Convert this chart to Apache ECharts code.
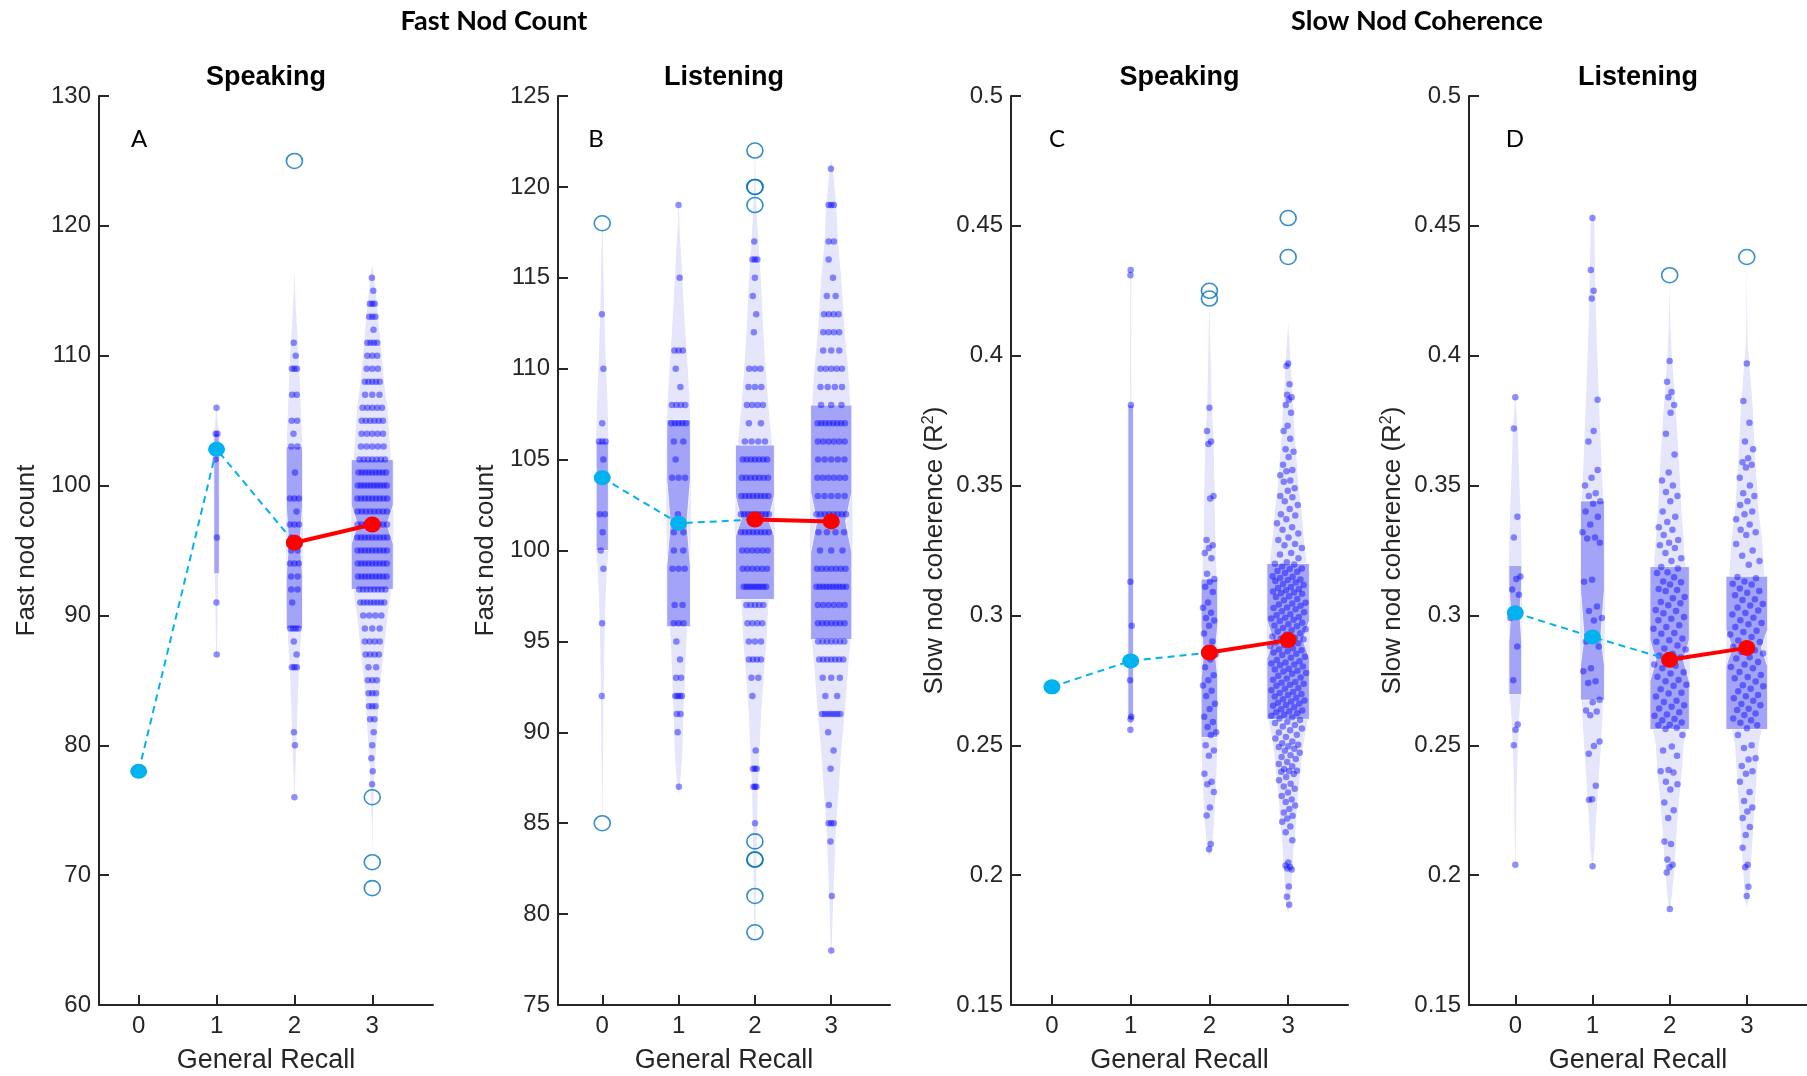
<!DOCTYPE html>
<html><head><meta charset="utf-8">
<script src="https://cdn.jsdelivr.net/npm/echarts@6/dist/echarts.min.js"></script>
<style>html,body{margin:0;padding:0;background:#fff}#c{width:1807px;height:1076px}</style>
</head><body><div id="c"></div>
<script>
// ---------------- shared ----------------
const groups = [0, 1, 2, 3];
const xTickLabels = ['0', '1', '2', '3'];
const superTitles = ['Fast Nod Count', 'Slow Nod Coherence'];
const panelTitles = ['Speaking', 'Listening', 'Speaking', 'Listening'];
const panelLetters = ['A', 'B', 'C', 'D'];
const yNames = ['Fast nod count', 'Fast nod count', 'Slow nod coherence (R{sup|2})', 'Slow nod coherence (R{sup|2})'];
const xName = 'General Recall';

// ---------------- Panel A: fast nod count, speaking ----------------
const fastSpkMedian = [78, 102.8, 95.6, 97];
const fastSpkBox = [null, [93.2, null, 102.8, null, 104], [89, 93, 95.6, 98.5, 103], [92, 95.5, 97, 98.5, 102]];
const fastSpkOutliers = [[], [], [125], [76, 71, 69]];
const fastSpkRows = [
  [[78, 1]],
  [[106, 1], [104, 2], [103, 1], [102, 1], [96, 1], [91, 1], [87, 1]],
  [[111, 1], [110, 1], [109, 3], [107, 2], [105, 2], [104, 1], [103, 2], [101, 1], [99, 3], [98, 1], [97, 3], [96, 1], [95, 2], [94, 3], [93, 2], [92, 2], [91, 1], [89, 4], [88, 1], [87, 1], [86, 3], [81, 1], [80, 1], [76, 1]],
  [[116, 1], [115, 1], [114, 3], [113, 3], [112, 1], [111, 4], [110, 3], [109, 3], [108, 5], [107, 3], [106, 5], [105, 6], [104, 5], [103, 5], [102, 7], [101, 9], [100, 10], [99, 9], [98, 8], [97, 8], [96, 9], [95, 9], [94, 9], [93, 9], [92, 8], [91, 8], [90, 4], [89, 3], [88, 4], [87, 4], [86, 2], [85, 3], [84, 3], [83, 3], [82, 2], [81, 1], [80, 1], [79, 1], [78, 1], [77, 1]]
];
const fastSpkDensity = [
  [],
  [[106.3, 0], [106, 0.006], [105, 0.014], [104, 0.03], [103, 0.035], [100, 0.035], [97, 0.03], [94, 0.024], [93, 0.02], [91, 0.015], [89, 0.01], [87, 0.005], [86.8, 0]],
  [[116.5, 0], [114, 0.015], [112, 0.035], [110, 0.055], [107, 0.075], [104, 0.095], [101, 0.105], [97, 0.11], [93, 0.105], [90, 0.095], [88, 0.08], [86, 0.06], [83, 0.04], [80, 0.025], [78, 0.012], [76, 0.002]],
  [[117, 0], [116, 0.027], [114, 0.06], [112, 0.09], [110, 0.12], [108, 0.15], [106, 0.195], [104, 0.215], [102, 0.24], [99, 0.27], [96, 0.27], [93, 0.26], [91, 0.22], [90, 0.195], [88, 0.16], [86, 0.125], [84, 0.09], [82, 0.07], [80, 0.05], [78, 0.03], [76, 0.015], [74, 0.006], [72, 0.001]]
];

// ---------------- Panel B: fast nod count, listening ----------------
const fastLisMedian = [104, 101.5, 101.7, 101.6];
const fastLisBox = [[100, null, 104, null, 106], [95.8, 99.1, 101.5, 103.9, 107.2], [97.3, 100.8, 101.7, 103.0, 105.8], [95.1, 99.9, 101.6, 103.2, 108]];
const fastLisOutliers = [[118, 85], [], [122, 120, 120, 119, 84, 83, 83, 81, 79], []];
const fastLisRows = [
  [[113, 1], [110, 1], [107, 1], [106, 3], [105, 1], [104, 1], [102, 2], [101, 1], [100, 1], [99, 1], [96, 1], [92, 1]],
  [[119, 1], [115, 1], [111, 3], [110, 1], [109, 1], [108, 4], [107, 5], [106, 2], [105, 1], [104, 3], [102, 1], [101, 2], [100, 2], [99, 3], [97, 2], [96, 3], [95, 1], [94, 1], [93, 2], [92, 4], [91, 2], [90, 1], [87, 1]],
  [[117, 1], [116, 3], [115, 1], [114, 1], [113, 1], [112, 1], [110, 3], [109, 3], [108, 4], [107, 2], [106, 4], [105, 7], [104, 7], [103, 8], [102, 9], [101, 8], [100, 6], [99, 6], [98, 9], [97, 5], [96, 4], [95, 3], [94, 4], [93, 2], [92, 1], [89, 1], [88, 3], [87, 3], [85, 1]],
  [[121, 1], [119, 3], [117, 2], [116, 1], [115, 1], [114, 2], [113, 4], [112, 4], [111, 3], [110, 5], [109, 4], [108, 3], [107, 8], [106, 6], [105, 5], [104, 6], [103, 5], [102, 8], [101, 4], [100, 3], [99, 7], [98, 10], [97, 6], [96, 7], [95, 7], [94, 7], [93, 3], [92, 2], [91, 7], [90, 1], [89, 1], [88, 1], [86, 1], [85, 3], [84, 1], [81, 1], [78, 1]]
];
const fastLisDensity = [
  [[118, 0.003], [116, 0.012], [113, 0.026], [110, 0.05], [108, 0.07], [106, 0.08], [103, 0.085], [100, 0.08], [99, 0.06], [97, 0.04], [95, 0.028], [92, 0.017], [89, 0.01], [86, 0.004], [85, 0]],
  [[119.5, 0], [118, 0.01], [116, 0.035], [114, 0.06], [112, 0.087], [110, 0.12], [108, 0.146], [105, 0.16], [102, 0.16], [99, 0.15], [96, 0.12], [95, 0.1], [93, 0.083], [91, 0.063], [89, 0.05], [88, 0.035], [87, 0.015], [86.5, 0]],
  [[122, 0], [120, 0.01], [118, 0.03], [117, 0.046], [115, 0.076], [112, 0.11], [110, 0.14], [108, 0.175], [106, 0.22], [104, 0.25], [101, 0.26], [99, 0.24], [97, 0.175], [95, 0.15], [93, 0.113], [91, 0.08], [89, 0.06], [87, 0.037], [85, 0.028], [83, 0.02], [81, 0.014], [79, 0.008], [78.5, 0]],
  [[121.5, 0], [121, 0.02], [119, 0.065], [117, 0.087], [115, 0.13], [112, 0.175], [110, 0.22], [108, 0.25], [105, 0.27], [101, 0.28], [98, 0.27], [95, 0.25], [93, 0.21], [91, 0.175], [89, 0.13], [87, 0.1], [85, 0.065], [83, 0.045], [81, 0.026], [79, 0.012], [78, 0.005], [77.5, 0]]
];

// ---------------- Panel C: slow nod coherence, speaking ----------------
const slowSpkMedian = [0.2725, 0.2825, 0.2857, 0.2905];
const slowSpkBox = [null, [0.26, null, 0.2825, null, 0.381], [0.253, 0.276, 0.2857, 0.296, 0.314], [0.260, 0.2835, 0.2905, 0.298, 0.320]];
const slowSpkOutliers = [[], [], [0.425, 0.422], [0.453, 0.438]];
const slowSpkValues = [
  [0.2725],
  [0.433, 0.431, 0.381, 0.313, 0.296, 0.283, 0.275, 0.261, 0.260, 0.256],
  [0.380, 0.371, 0.367, 0.366, 0.346, 0.345, 0.329, 0.327, 0.326, 0.324, 0.322, 0.316, 0.314, 0.313, 0.311, 0.309, 0.305, 0.303, 0.301, 0.299, 0.298, 0.296, 0.293, 0.290, 0.287, 0.285, 0.283, 0.280, 0.277, 0.275, 0.273, 0.271, 0.269, 0.266, 0.264, 0.261, 0.259, 0.257, 0.255, 0.254, 0.250, 0.248, 0.246, 0.239, 0.236, 0.235, 0.232, 0.226, 0.223, 0.212, 0.210],
  [0.397, 0.396, 0.389, 0.385, 0.384, 0.383, 0.381, 0.378, 0.373, 0.371, 0.368, 0.364, 0.363, 0.361, 0.358, 0.356, 0.3555, 0.354, 0.352, 0.3515, 0.349, 0.348, 0.346, 0.3455, 0.344, 0.3425, 0.341, 0.339, 0.3385, 0.337, 0.3355, 0.334, 0.333, 0.3315, 0.330, 0.329, 0.3275, 0.327, 0.326, 0.324, 0.3235, 0.322, 0.3205,
   0.3199, 0.3196, 0.3188, 0.3181, 0.3179, 0.3171, 0.3168, 0.3163, 0.3151, 0.3149, 0.3144, 0.3138, 0.3136, 0.3133, 0.3127, 0.3121, 0.3117, 0.3109, 0.3106, 0.3102, 0.3097, 0.3092, 0.3088, 0.3085, 0.3083, 0.3074, 0.3071, 0.3063, 0.3058, 0.3049, 0.3046, 0.3042, 0.3037, 0.3031, 0.3029, 0.3024, 0.3016, 0.3012, 0.3005, 0.3001, 0.2994, 0.2991, 0.2988, 0.2983, 0.2979, 0.2972, 0.2966, 0.2961, 0.2958, 0.2952, 0.2947, 0.2943, 0.2938, 0.2931, 0.2927, 0.2919, 0.2914, 0.2911, 0.2908, 0.2904, 0.2896, 0.2893, 0.2885, 0.2881, 0.2874, 0.2869, 0.2866, 0.2862, 0.2857, 0.2852, 0.2848, 0.2841, 0.2837, 0.2828, 0.2824, 0.2819, 0.2815, 0.2811, 0.2808, 0.2803, 0.2795, 0.2792, 0.2787, 0.2784, 0.2778, 0.2775, 0.2768, 0.2761, 0.2757, 0.2752, 0.2744, 0.2741, 0.2737, 0.2733, 0.2729, 0.2721, 0.2718, 0.2712, 0.2705, 0.2701, 0.2697, 0.2694, 0.2688, 0.2683, 0.2677, 0.2672, 0.2669, 0.2664, 0.2661, 0.2655, 0.2652, 0.2646, 0.2639, 0.2634, 0.2631, 0.2627, 0.2623, 0.2618, 0.2614, 0.2608, 0.2603,
   0.2597, 0.2591, 0.2586, 0.2578, 0.2572, 0.2565, 0.2558, 0.2549, 0.2541, 0.2532, 0.2526, 0.2515, 0.2508, 0.2502, 0.2496, 0.2493, 0.2487, 0.2479, 0.2471, 0.2462, 0.2455, 0.2447, 0.2436, 0.2428, 0.2419, 0.2409, 0.2402, 0.2401, 0.2398, 0.2389, 0.2378, 0.2365, 0.2352, 0.2341, 0.2333, 0.2318, 0.2305, 0.2291, 0.2282, 0.2268, 0.2255, 0.2241, 0.2229, 0.2218, 0.2206, 0.2187, 0.2165, 0.2134, 0.2049, 0.2037, 0.2031, 0.2026, 0.2022, 0.1956, 0.1917, 0.1886]
];
const slowSpkDensity = [
  [],
  [[0.434, 0], [0.43, 0.006], [0.40, 0.007], [0.38, 0.009], [0.34, 0.012], [0.30, 0.016], [0.28, 0.018], [0.26, 0.014], [0.254, 0]],
  [[0.423, 0], [0.41, 0.008], [0.40, 0.015], [0.38, 0.028], [0.37, 0.05], [0.35, 0.064], [0.33, 0.072], [0.32, 0.085], [0.30, 0.1], [0.28, 0.105], [0.26, 0.105], [0.25, 0.1], [0.24, 0.09], [0.23, 0.075], [0.22, 0.057], [0.21, 0.03], [0.207, 0]],
  [[0.413, 0], [0.40, 0.026], [0.39, 0.043], [0.38, 0.064], [0.37, 0.08], [0.36, 0.106], [0.35, 0.13], [0.34, 0.17], [0.33, 0.196], [0.32, 0.234], [0.30, 0.27], [0.28, 0.275], [0.26, 0.25], [0.25, 0.19], [0.24, 0.153], [0.23, 0.12], [0.22, 0.098], [0.21, 0.068], [0.20, 0.049], [0.19, 0.032], [0.185, 0]]
];

// ---------------- Panel D: slow nod coherence, listening ----------------
const slowLisMedian = [0.301, 0.2917, 0.2829, 0.2875];
const slowLisBox = [[0.2695, 0.290, 0.301, 0.312, 0.3193], [0.2674, 0.281, 0.2917, 0.310, 0.3441], [0.2561, 0.2747, 0.2829, 0.2905, 0.3188], [0.2561, 0.2804, 0.2875, 0.2946, 0.3151]];
const slowLisOutliers = [[], [], [0.431], [0.438]];
const slowLisValues = [
  [0.384, 0.372, 0.338, 0.330, 0.315, 0.314, 0.310, 0.308, 0.301, 0.299, 0.288, 0.275, 0.258, 0.256, 0.250, 0.204],
  [0.453, 0.433, 0.425, 0.422, 0.383, 0.371, 0.367, 0.356, 0.353, 0.350, 0.347, 0.346, 0.344, 0.343, 0.340, 0.338, 0.335, 0.332, 0.330, 0.3296, 0.328, 0.3137, 0.313, 0.3034, 0.3017, 0.299, 0.298, 0.290, 0.288, 0.2797, 0.2785, 0.2747, 0.274, 0.2675, 0.2666, 0.2634, 0.263, 0.2616, 0.2515, 0.2497, 0.2467, 0.2344, 0.2292, 0.229, 0.2034],
  [0.398, 0.390, 0.386, 0.384, 0.381, 0.378, 0.370, 0.362, 0.355, 0.352, 0.350, 0.3475, 0.346, 0.344, 0.340, 0.338, 0.336, 0.334, 0.333, 0.331, 0.329, 0.328, 0.327, 0.326, 0.324, 0.322, 0.321,
   0.3186, 0.3181, 0.3166, 0.3163, 0.3147, 0.3131, 0.3128, 0.3119, 0.3102, 0.3098, 0.3094, 0.3071, 0.3066, 0.3052, 0.3047, 0.3039, 0.3021, 0.3017, 0.3008, 0.2994, 0.2987, 0.2981, 0.2962, 0.2955, 0.2949, 0.2932, 0.2929, 0.2911, 0.2904, 0.2899, 0.2884, 0.2873, 0.2869, 0.2852, 0.2846, 0.2838, 0.2827, 0.2811, 0.2806, 0.2797, 0.2781, 0.2776, 0.2764, 0.2751, 0.2747, 0.2733, 0.2729, 0.2716, 0.2702, 0.2699, 0.2688, 0.2671, 0.2667, 0.2654, 0.2648, 0.2642, 0.2627, 0.2619, 0.2614, 0.2601, 0.2596, 0.2588, 0.2579, 0.2577, 0.2568, 0.2563,
   0.254, 0.2495, 0.248, 0.246, 0.2405, 0.240, 0.2395, 0.236, 0.235, 0.233, 0.228, 0.225, 0.222, 0.213, 0.212, 0.206, 0.204, 0.203, 0.201, 0.187],
  [0.397, 0.3826, 0.3742, 0.367, 0.364, 0.3605, 0.359, 0.358, 0.357, 0.353, 0.350, 0.347, 0.346, 0.344, 0.3425, 0.340, 0.339, 0.337, 0.335, 0.333, 0.332, 0.331, 0.3275, 0.325, 0.323, 0.321, 0.3195,
   0.3148, 0.3143, 0.3131, 0.3122, 0.3119, 0.3104, 0.3094, 0.3087, 0.3078, 0.3062, 0.3059, 0.3044, 0.3038, 0.3031, 0.3019, 0.3009, 0.3004, 0.2991, 0.2981, 0.2971, 0.2966, 0.2955, 0.2941, 0.2936, 0.2927, 0.2917, 0.2903, 0.2898, 0.2889, 0.2879, 0.2866, 0.2859, 0.2853, 0.2839, 0.2834, 0.2821, 0.2811, 0.2801, 0.2797, 0.2782, 0.2771, 0.2763, 0.2758, 0.2746, 0.2731, 0.2727, 0.2718, 0.2708, 0.2694, 0.2689, 0.2681, 0.2671, 0.2659, 0.2654, 0.2641, 0.2636, 0.2622, 0.2617, 0.2603, 0.2596, 0.2587, 0.2577, 0.2566,
   0.254, 0.250, 0.249, 0.245, 0.2445, 0.242, 0.240, 0.239, 0.236, 0.232, 0.2285, 0.226, 0.2245, 0.222, 0.2185, 0.2155, 0.2105, 0.204, 0.203, 0.1955, 0.192]
];
const slowLisDensity = [
  [[0.386, 0], [0.38, 0.012], [0.37, 0.033], [0.35, 0.054], [0.34, 0.067], [0.33, 0.076], [0.32, 0.083], [0.30, 0.085], [0.28, 0.08], [0.27, 0.072], [0.26, 0.048], [0.25, 0.033], [0.24, 0.022], [0.23, 0.015], [0.22, 0.01], [0.21, 0.005], [0.203, 0]],
  [[0.456, 0], [0.45, 0.024], [0.43, 0.035], [0.42, 0.041], [0.40, 0.063], [0.38, 0.087], [0.36, 0.115], [0.35, 0.13], [0.34, 0.15], [0.32, 0.16], [0.30, 0.16], [0.28, 0.155], [0.27, 0.14], [0.26, 0.128], [0.25, 0.109], [0.24, 0.087], [0.23, 0.065], [0.22, 0.043], [0.21, 0.026], [0.202, 0]],
  [[0.431, 0], [0.42, 0.004], [0.41, 0.012], [0.40, 0.028], [0.38, 0.076], [0.36, 0.12], [0.35, 0.137], [0.34, 0.152], [0.33, 0.178], [0.32, 0.2], [0.30, 0.255], [0.28, 0.265], [0.26, 0.245], [0.25, 0.178], [0.24, 0.159], [0.23, 0.124], [0.22, 0.098], [0.21, 0.076], [0.20, 0.054], [0.19, 0.022], [0.186, 0]],
  [[0.44, 0], [0.42, 0.004], [0.405, 0.01], [0.397, 0.033], [0.38, 0.076], [0.36, 0.109], [0.34, 0.152], [0.33, 0.196], [0.32, 0.217], [0.30, 0.26], [0.28, 0.27], [0.26, 0.22], [0.25, 0.152], [0.24, 0.13], [0.23, 0.109], [0.22, 0.087], [0.21, 0.065], [0.20, 0.043], [0.19, 0.022], [0.188, 0]]
];

// ---------------- layout & style (not data) ----------------
const AXIS_COLOR = '#262626';
const FONT = 'Liberation Sans';
const TITLE_FONT = 'Lato';
const VIOLIN_FILL = '#e5e5fb';
const BOX_FILL = '#a3a3f8';
const DOT_COLOR = 'rgba(0,0,255,0.55)';
const OUTLIER_COLOR = '#0072BD';
const CYAN = '#00b2ee';
const RED = '#ff0000';
const GRID_TOP = 96, GRID_BOTTOM = 71;

const panels = [
  { left: 99, width: 334, xMin: -0.51, xMax: 3.78, yMin: 60, yMax: 130, yStep: 10, nameGap: 59, boxHW: [0, 0.035, 0.105, 0.27],
    median: fastSpkMedian, box: fastSpkBox, outliers: fastSpkOutliers, rows: fastSpkRows, density: fastSpkDensity },
  { left: 558, width: 332, xMin: -0.58, xMax: 3.77, yMin: 75, yMax: 125, yStep: 5, nameGap: 59, boxHW: [0.08, 0.155, 0.255, 0.27],
    median: fastLisMedian, box: fastLisBox, outliers: fastLisOutliers, rows: fastLisRows, density: fastLisDensity },
  { left: 1011, width: 337, xMin: -0.52, xMax: 3.76, yMin: 0.15, yMax: 0.5, yStep: 0.05, nameGap: 62, boxHW: [0, 0.035, 0.105, 0.27],
    median: slowSpkMedian, box: slowSpkBox, outliers: slowSpkOutliers, values: slowSpkValues, density: slowSpkDensity },
  { left: 1469, width: 338, xMin: -0.6, xMax: 3.78, yMin: 0.15, yMax: 0.5, yStep: 0.05, nameGap: 62, boxHW: [0.083, 0.155, 0.255, 0.27],
    median: slowLisMedian, box: slowLisBox, outliers: slowLisOutliers, values: slowLisValues, density: slowLisDensity }
];

// half-width of the drawn violin outline at value v (used only to place jittered dots)
function halfWidthAt(d, v) {
  if (!d || d.length === 0) return 0;
  const s = d.slice().sort((a, b) => a[0] - b[0]);
  if (v <= s[0][0]) return s[0][1];
  if (v >= s[s.length - 1][0]) return s[s.length - 1][1];
  for (let i = 1; i < s.length; i++) {
    if (v <= s[i][0]) {
      const [v0, w0] = s[i - 1], [v1, w1] = s[i];
      return w0 + (w1 - w0) * (v - v0) / (v1 - v0);
    }
  }
  return 0;
}
const frac = x => x - Math.floor(x);

function dotsFromRows(rows, dens, g) {
  const out = [];
  rows.forEach(([v, n], r) => {
    const hw = halfWidthAt(dens, v) * 0.8;
    const shift = n === 1 ? (frac(r * 0.618034 + 0.25) - 0.5) * hw : 0;
    for (let k = 0; k < n; k++) {
      const t = n === 1 ? 0 : -1 + (2 * k + 1) / n;
      out.push([g + t * hw + shift, v]);
    }
  });
  return out;
}
function dotsFromValues(vals, dens, g) {
  return vals.map((v, i) => {
    const hw = halfWidthAt(dens, v) * 0.85;
    const t = 2 * frac(i * 0.6180339887 + 0.5) - 1;
    return [g + t * hw, v];
  });
}

function violinRender(dens) {
  return function (params, api) {
    const g = api.value(0);
    const d = dens[g];
    if (!d || d.length < 2) return null;
    const pts = [];
    for (const [v, w] of d) pts.push(api.coord([g - w, v]));
    for (let i = d.length - 1; i >= 0; i--) pts.push(api.coord([g + d[i][1], d[i][0]]));
    return { type: 'polygon', shape: { points: pts }, style: { fill: VIOLIN_FILL, stroke: null } };
  };
}
function boxRender(boxes, hws) {
  return function (params, api) {
    const g = api.value(0);
    const b = boxes[g];
    if (!b) return null;
    const w = hws[g];
    const [q1, nl, md, nh, q3] = b;
    let raw;
    if (nl == null) {
      raw = [[g - w, q1], [g - w, q3], [g + w, q3], [g + w, q1]];
    } else {
      const wi = w * 0.7;
      raw = [[g - w, q1], [g - w, nl], [g - wi, md], [g - w, nh], [g - w, q3], [g + w, q3], [g + w, nh], [g + wi, md], [g + w, nl], [g + w, q1]];
    }
    return { type: 'polygon', shape: { points: raw.map(p => api.coord(p)) },
      style: { fill: BOX_FILL, stroke: 'rgba(255,255,255,0.85)', lineWidth: 1 } };
  };
}

const grid = [], xAxis = [], yAxis = [], series = [], graphic = [];
panels.forEach((p, i) => {
  grid.push({ left: p.left, width: p.width, top: GRID_TOP, bottom: GRID_BOTTOM, containLabel: false, outerBoundsMode: 'none' });
  xAxis.push({
    type: 'value', gridIndex: i, min: p.xMin, max: p.xMax,
    axisLine: { show: true, onZero: false, lineStyle: { color: AXIS_COLOR, width: 2 } },
    axisTick: { show: true, inside: true, length: 10, customValues: groups, lineStyle: { color: AXIS_COLOR, width: 2 } },
    axisLabel: { show: true, customValues: groups, fontSize: 24, color: AXIS_COLOR, fontFamily: FONT, margin: 9,
      formatter: v => xTickLabels[Math.round(v)] },
    splitLine: { show: false },
    name: xName, nameLocation: 'middle', nameGap: 42,
    nameTextStyle: { fontSize: 27, color: AXIS_COLOR, fontFamily: FONT }
  });
  yAxis.push({
    type: 'value', gridIndex: i, min: p.yMin, max: p.yMax, interval: p.yStep,
    axisLine: { show: true, onZero: false, lineStyle: { color: AXIS_COLOR, width: 2 } },
    axisTick: { show: true, inside: true, length: 10, lineStyle: { color: AXIS_COLOR, width: 2 } },
    axisLabel: { fontSize: 24, color: AXIS_COLOR, fontFamily: FONT, margin: 8,
      formatter: v => String(Math.round(v * 1000) / 1000) },
    splitLine: { show: false },
    name: yNames[i], nameLocation: 'middle', nameGap: p.nameGap, nameRotate: 90,
    nameTextStyle: { fontSize: 26, color: AXIS_COLOR, fontFamily: FONT,
      rich: { sup: { fontSize: 16, color: AXIS_COLOR, fontFamily: FONT, verticalAlign: 'bottom', padding: [0, 0, 12, 0] } } }
  });
  const base = { xAxisIndex: i, yAxisIndex: i, silent: true, animation: false };
  series.push(Object.assign({}, base, {
    type: 'custom', z: 1, clip: false, renderItem: violinRender(p.density),
    data: groups.map(g => [g, p.median[g]]), encode: { x: 0, y: 1 }
  }));
  series.push(Object.assign({}, base, {
    type: 'custom', z: 2, clip: false, renderItem: boxRender(p.box, p.boxHW),
    data: groups.map(g => [g, p.median[g]]), encode: { x: 0, y: 1 }
  }));
  let dots = [];
  groups.forEach(g => {
    dots = dots.concat(p.rows ? dotsFromRows(p.rows[g], p.density[g], g) : dotsFromValues(p.values[g], p.density[g], g));
  });
  series.push(Object.assign({}, base, {
    type: 'scatter', z: 3, data: dots, symbol: 'circle', symbolSize: 6.5,
    itemStyle: { color: DOT_COLOR }
  }));
  const outs = [];
  groups.forEach(g => p.outliers[g].forEach(v => outs.push([g, v])));
  series.push(Object.assign({}, base, {
    type: 'scatter', z: 4, data: outs, symbol: 'circle', symbolSize: [16, 15],
    itemStyle: { color: 'rgba(0,0,0,0)', borderColor: OUTLIER_COLOR, borderWidth: 1.6 }
  }));
  series.push(Object.assign({}, base, {
    type: 'line', z: 5, data: [0, 1, 2].map(g => [g, p.median[g]]),
    lineStyle: { color: CYAN, width: 2, type: [7, 5] }, symbol: 'circle', symbolSize: [17, 15],
    itemStyle: { color: CYAN }
  }));
  series.push(Object.assign({}, base, {
    type: 'line', z: 6, data: [2, 3].map(g => [g, p.median[g]]),
    lineStyle: { color: RED, width: 4 }, symbol: 'circle', symbolSize: [17, 16],
    itemStyle: { color: RED }
  }));
  const cx = p.left + p.width / 2;
  graphic.push({ type: 'text', x: cx, y: 78, style: { text: panelTitles[i], fontFamily: FONT, fontWeight: 'bold', fontSize: 27, fill: '#000', align: 'center', verticalAlign: 'middle' } });
});

const letterX = [139, 596, 1057, 1515];
panelLetters.forEach((t, i) => graphic.push({ type: 'text', x: letterX[i], y: 139, style: { text: t, fontFamily: TITLE_FONT, fontSize: 24, fill: '#000', align: 'center', verticalAlign: 'middle' } }));
const superX = [494, 1417];
superTitles.forEach((t, i) => graphic.push({ type: 'text', x: superX[i], y: 21, style: { text: t, fontFamily: TITLE_FONT, fontWeight: 'bold', fontSize: 27, fill: '#000', align: 'center', verticalAlign: 'middle' } }));

const chart = echarts.init(document.getElementById('c'), null, { renderer: 'canvas' });
chart.setOption({ backgroundColor: '#fff', animation: false, grid, xAxis, yAxis, series, graphic });
</script></body></html>
